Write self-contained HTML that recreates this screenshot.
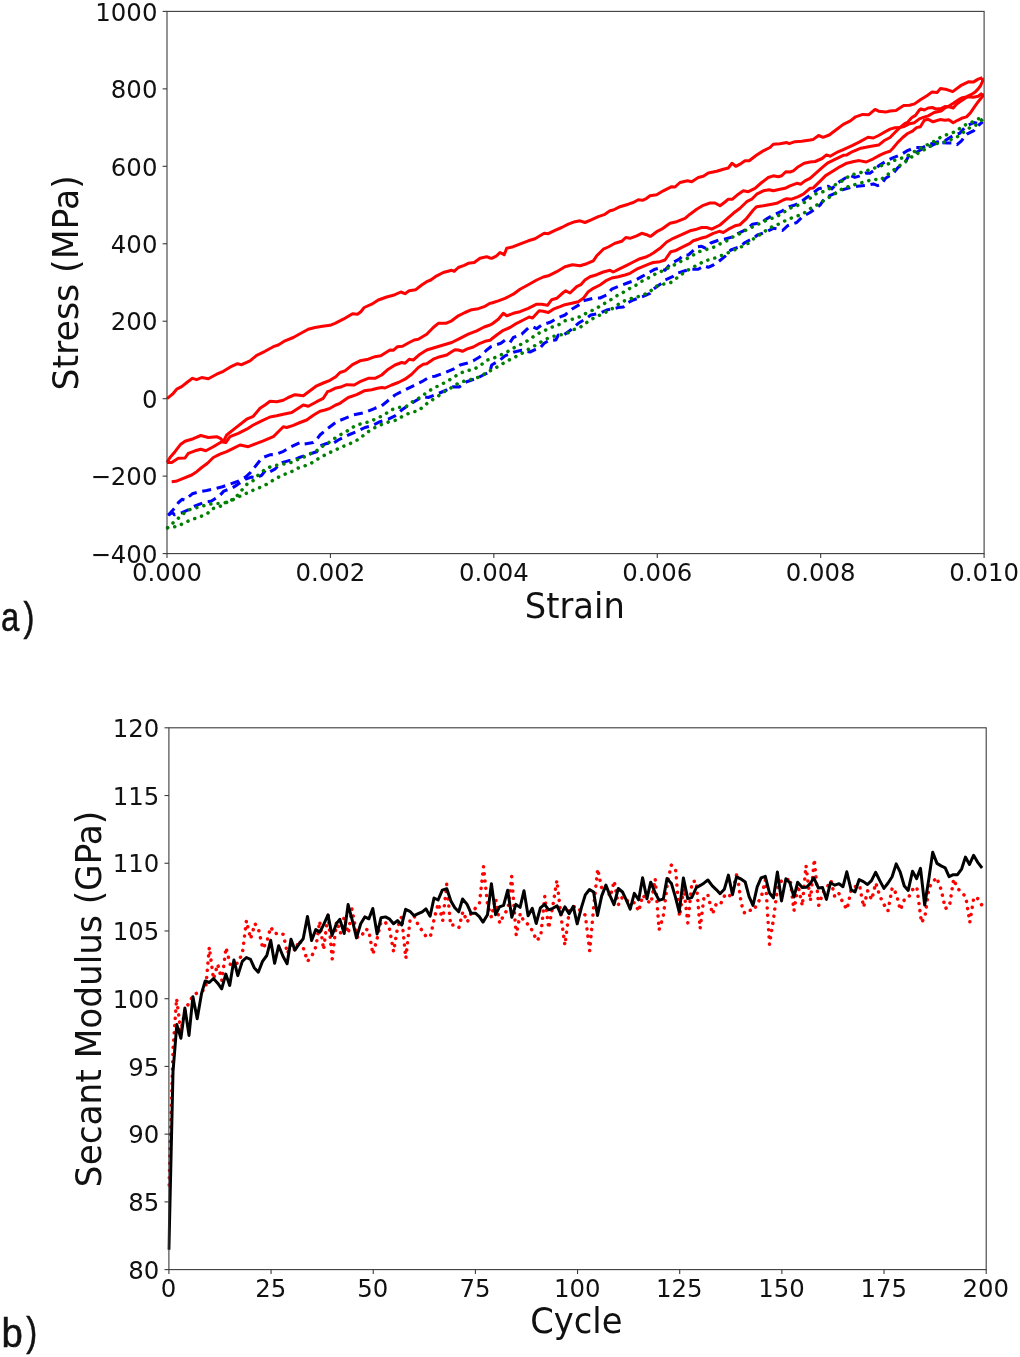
<!DOCTYPE html>
<html lang="en">
<head>
<meta charset="utf-8">
<title>Stress-strain and secant modulus</title>
<style>
html,body{margin:0;padding:0;background:#fff;}
body{width:1020px;height:1357px;overflow:hidden;}
svg{display:block;will-change:transform;}
.t{font-family:"DejaVu Sans","Liberation Sans",sans-serif;fill:#111;}
.tk{font-size:24.40px;}
.lb{font-size:34.30px;}
.pl{font-family:"Liberation Sans",sans-serif;fill:#111;font-size:41px;stroke:#111;stroke-width:0.55;}
.fr{fill:none;stroke:#3c3c3c;stroke-width:1.10;}
.r{fill:none;stroke:#ff0000;stroke-width:3.0;stroke-linejoin:round;stroke-linecap:butt;}
.b{fill:none;stroke:#0000ff;stroke-width:3.05;stroke-linejoin:round;stroke-dasharray:9.0 5.7;}
.g{fill:none;stroke:#008000;stroke-width:3.5;stroke-linejoin:round;stroke-linecap:round;stroke-dasharray:0.1 7.15;}
.k{fill:none;stroke:#000;stroke-width:3.0;stroke-linejoin:round;}
.rd{fill:none;stroke:#ff0000;stroke-width:3.5;stroke-linejoin:round;stroke-linecap:round;stroke-dasharray:0.1 7.15;}
</style>
</head>
<body>
<svg width="1020" height="1357" viewBox="0 0 1020 1357">
<rect width="1020" height="1357" fill="#fff"/>
<!-- panel a: stress vs strain -->
<g>
<clipPath id="ca"><rect x="165.5" y="11.4" width="820.1" height="542.2"/></clipPath>
<g clip-path="url(#ca)">
<path class="r" d="M167.0 398.7 L172.5 394.2 L176.7 389.2 L181.7 386.7 L187.5 382.0 L192.5 378.3 L196.7 379.7 L201.7 377.5 L208.3 378.7 L216.7 374.2 L223.3 371.3 L230.0 367.2 L237.5 363.7 L241.7 364.7 L250.0 360.8 L256.7 355.3 L265.0 351.3 L273.3 346.7 L278.3 345.0 L285.0 340.8 L293.3 337.5 L300.0 333.7 L308.3 329.2 L315.0 327.5 L322.5 326.3 L330.0 325.3 L335.0 323.3 L343.3 319.2 L352.5 313.7 L357.5 314.2 L360.8 311.7 L364.2 307.5 L371.7 304.2 L378.3 300.0 L386.7 297.0 L393.3 295.3 L400.8 292.0 L405.0 293.7 L409.2 290.8 L415.8 289.7 L421.7 285.0 L426.7 281.7 L430.8 280.0 L436.7 275.8 L443.3 272.5 L451.7 270.3 L454.2 271.3 L458.3 267.5 L464.2 265.3 L468.3 263.3 L474.2 262.5 L480.0 258.3 L486.7 256.7 L490.0 258.0 L491.7 258.3 L496.7 255.8 L500.0 252.5 L504.2 254.7 L506.7 248.3 L513.3 246.7 L521.7 243.3 L528.3 240.8 L535.0 238.7 L540.0 235.8 L544.2 233.3 L548.3 233.7 L555.0 230.3 L561.7 227.5 L568.3 224.2 L575.0 221.7 L580.0 220.8 L585.0 222.5 L591.7 219.7 L598.3 216.7 L604.2 214.7 L610.0 210.8 L613.3 210.0 L620.0 206.7 L628.3 204.2 L633.3 202.5 L638.3 199.7 L642.5 200.3 L646.7 198.3 L650.0 195.8 L656.7 194.7 L663.3 190.8 L671.7 186.7 L675.0 187.0 L680.0 182.5 L687.5 180.8 L691.7 181.7 L698.3 177.5 L703.3 176.3 L708.3 173.0 L716.7 171.3 L723.3 169.2 L728.3 168.0 L732.0 163.3 L735.8 166.3 L740.0 164.2 L745.0 160.8 L749.2 160.8 L756.7 155.0 L763.3 150.8 L770.0 147.5 L773.3 144.2 L780.0 143.7 L786.7 142.5 L789.2 143.7 L795.0 141.7 L801.7 141.3 L810.0 140.0 L813.3 139.4 L818.6 135.5 L823.0 137.3 L829.2 135.0 L836.2 129.7 L843.3 124.4 L850.4 120.9 L855.6 116.8 L862.7 114.4 L868.9 114.7 L875.1 109.4 L878.6 111.2 L885.6 112.1 L890.0 111.0 L895.9 110.5 L903.7 105.6 L909.6 105.3 L914.5 103.9 L920.4 99.7 L927.3 95.5 L932.2 91.9 L937.1 92.4 L940.5 88.6 L946.9 89.6 L952.7 91.6 L960.6 85.7 L968.4 81.8 L973.3 82.1 L978.2 79.1 L982.2 77.8"/>
<path class="r" d="M167.0 462.5 L171.7 462.5 L178.3 458.3 L185.0 458.0 L188.3 453.3 L195.0 450.8 L200.8 449.2 L205.8 450.8 L213.3 446.7 L221.7 441.7 L225.8 442.5 L230.0 436.7 L238.3 433.3 L246.7 429.2 L253.3 425.0 L261.7 420.8 L270.0 417.0 L276.7 415.8 L283.3 414.2 L291.7 412.5 L298.3 408.3 L303.3 405.0 L308.3 406.3 L316.7 401.7 L323.3 398.3 L327.5 391.7 L330.0 390.8 L335.0 388.3 L341.7 386.7 L346.7 384.7 L354.2 385.0 L360.0 381.7 L368.3 378.3 L375.0 378.3 L381.7 375.0 L388.3 369.2 L395.0 365.0 L401.7 362.5 L405.0 363.3 L409.2 359.2 L413.3 360.0 L420.0 354.2 L426.7 350.0 L435.0 347.5 L443.3 345.0 L451.7 342.5 L460.0 338.3 L468.3 334.2 L476.7 330.8 L484.2 327.0 L490.0 325.0 L491.7 324.2 L498.3 319.2 L503.3 313.3 L506.7 315.8 L513.3 313.3 L520.0 311.7 L528.3 308.3 L536.7 304.2 L541.7 304.2 L547.5 305.3 L551.7 299.7 L556.7 298.3 L563.3 292.5 L565.8 290.8 L570.0 293.0 L576.7 286.7 L580.8 284.7 L585.0 280.0 L590.0 276.7 L596.7 274.7 L603.3 272.0 L610.0 270.3 L613.3 272.0 L620.0 268.7 L626.7 265.3 L633.3 262.0 L640.0 258.7 L646.7 256.7 L650.0 255.0 L653.3 253.0 L660.0 248.3 L666.7 242.0 L673.3 238.3 L681.7 234.7 L690.0 230.8 L696.7 229.2 L701.7 227.5 L706.7 227.5 L711.7 229.2 L720.0 225.0 L726.7 219.2 L733.3 213.3 L740.0 208.3 L746.7 201.7 L751.7 199.2 L756.7 194.2 L763.3 190.8 L769.2 189.7 L773.3 190.8 L780.0 189.2 L785.0 188.3 L790.0 185.8 L796.7 183.3 L800.8 184.2 L805.0 180.8 L810.0 178.3 L815.1 173.8 L822.1 167.6 L827.4 163.2 L834.5 159.7 L843.3 155.3 L846.8 154.9 L852.1 151.8 L860.9 148.2 L869.8 146.5 L878.6 145.1 L883.9 140.8 L890.0 137.5 L894.9 132.5 L899.8 127.6 L904.7 123.7 L907.6 122.3 L911.6 117.8 L915.5 115.4 L919.4 110.0 L920.9 108.8 L924.3 110.0 L928.2 108.0 L932.2 107.5 L936.1 109.0 L941.0 108.5 L944.9 106.6 L949.8 107.1 L953.2 108.0 L956.7 104.1 L960.6 101.2 L964.5 98.7 L968.4 95.8 L972.4 93.8 L975.3 91.9 L978.2 88.9 L980.7 85.5 L982.6 81.1 L982.2 77.8"/>
<path class="r" d="M167.0 462.5 L170.0 457.5 L175.0 451.7 L180.8 444.2 L185.0 441.3 L193.3 438.7 L200.8 435.5 L208.3 437.5 L216.7 436.7 L220.8 438.7 L223.3 441.7 L226.7 435.0 L235.0 428.3 L246.7 419.2 L253.3 416.3 L260.0 408.3 L265.0 405.0 L270.0 401.2 L276.7 401.7 L283.3 400.3 L288.3 397.5 L295.0 394.7 L303.3 395.8 L310.0 390.8 L316.7 385.8 L323.3 383.0 L330.0 380.3 L335.8 376.7 L340.0 372.5 L345.0 370.8 L352.5 364.7 L360.0 360.8 L368.3 359.2 L375.0 356.7 L380.8 355.8 L390.0 350.0 L393.3 350.3 L397.5 346.7 L402.5 346.3 L408.3 343.0 L414.2 340.0 L418.3 339.2 L426.7 334.2 L433.3 327.5 L438.3 323.3 L445.8 323.3 L451.7 320.8 L458.3 315.8 L465.0 312.5 L471.7 309.7 L478.3 308.7 L485.0 306.3 L490.0 303.3 L491.7 303.0 L498.3 300.8 L505.0 298.3 L513.3 294.2 L520.0 289.2 L528.3 284.7 L536.7 280.0 L543.3 277.0 L548.3 275.8 L556.7 271.7 L565.0 266.7 L572.5 264.7 L580.0 265.8 L586.7 263.7 L593.3 260.8 L596.7 255.8 L603.3 249.2 L608.3 247.0 L615.0 243.3 L621.7 241.3 L625.8 237.5 L630.0 238.3 L636.7 235.8 L641.7 233.3 L646.7 234.7 L650.0 236.3 L650.8 236.3 L656.7 231.7 L661.7 229.2 L670.0 223.3 L676.7 221.7 L685.0 218.3 L690.0 214.2 L696.7 209.2 L703.3 205.3 L710.0 203.0 L715.0 203.0 L720.0 205.8 L725.0 202.0 L728.3 199.2 L732.5 199.2 L738.3 194.2 L743.3 190.8 L748.3 191.7 L755.0 188.3 L761.7 182.5 L768.3 177.5 L773.3 175.8 L778.3 176.7 L781.7 175.8 L785.8 171.7 L790.0 172.0 L793.3 170.8 L798.3 166.7 L804.2 163.3 L810.0 162.0 L815.1 161.5 L822.1 158.5 L826.5 154.9 L830.1 156.2 L838.0 151.8 L843.3 149.6 L852.1 145.6 L859.2 142.1 L868.0 137.3 L873.3 138.0 L878.6 135.5 L885.6 131.5 L890.0 129.1 L894.9 127.8 L899.8 127.6 L904.7 126.2 L909.6 123.7 L914.5 122.7 L919.4 118.8 L923.3 117.4 L928.2 115.9 L934.1 112.5 L941.0 111.0 L944.9 108.0 L949.8 105.6 L953.7 103.1 L958.6 99.7 L962.5 97.7 L967.5 96.8 L973.3 97.3 L978.2 96.3 L982.2 93.3"/>
<path class="r" d="M171.7 481.7 L175.8 481.3 L183.3 478.3 L191.7 475.0 L196.7 471.7 L201.7 467.5 L207.5 463.3 L213.3 457.5 L220.0 454.2 L226.7 451.7 L233.3 448.3 L240.0 445.0 L248.3 446.7 L256.7 443.3 L263.3 440.8 L273.3 436.7 L278.3 431.7 L283.3 426.7 L286.7 427.5 L293.3 425.3 L300.0 422.5 L306.7 420.0 L313.3 415.3 L320.0 411.3 L325.0 410.0 L330.0 408.3 L335.8 405.0 L340.0 403.3 L348.3 397.5 L356.7 394.7 L364.2 390.8 L371.7 389.7 L377.5 388.3 L381.7 387.5 L385.0 388.0 L391.7 385.0 L398.3 382.5 L405.0 379.2 L411.7 374.2 L418.3 367.5 L423.3 364.2 L426.7 363.7 L433.3 359.2 L440.0 356.7 L446.7 355.0 L451.7 351.7 L455.0 349.7 L458.3 350.0 L462.5 351.3 L466.7 349.2 L473.3 347.0 L480.0 343.3 L485.0 341.3 L490.0 340.3 L496.7 335.0 L503.3 330.3 L510.0 327.5 L516.7 323.3 L523.3 320.0 L529.2 317.0 L532.5 318.0 L539.2 310.8 L543.3 311.3 L548.3 312.5 L553.3 309.2 L560.0 306.7 L565.0 304.7 L571.7 303.3 L578.3 301.7 L583.3 298.3 L588.3 291.7 L593.3 288.3 L600.0 285.0 L606.7 280.3 L611.7 278.0 L618.3 276.7 L625.0 275.0 L630.0 273.3 L636.7 269.2 L643.3 266.3 L650.0 263.7 L653.3 262.5 L660.0 261.7 L665.0 260.0 L670.8 251.7 L675.0 250.8 L683.3 246.7 L690.0 243.3 L693.3 240.8 L698.3 239.2 L701.7 238.0 L706.7 236.7 L713.3 233.3 L719.2 231.3 L723.3 232.5 L730.0 228.3 L735.0 225.8 L740.0 224.7 L746.7 218.3 L753.3 210.0 L756.7 206.7 L763.3 205.8 L771.7 204.2 L776.7 203.3 L783.3 200.0 L786.7 198.7 L791.7 199.2 L798.3 196.7 L803.3 194.2 L810.0 188.3 L813.3 187.9 L818.6 182.6 L825.6 175.6 L832.7 171.2 L839.8 166.8 L846.8 163.2 L853.9 161.5 L859.2 160.6 L866.2 162.0 L873.3 158.8 L880.4 154.9 L885.6 152.6 L890.0 151.2 L892.9 148.2 L897.8 142.4 L902.7 137.5 L907.6 133.5 L912.5 131.1 L916.5 127.6 L920.4 126.7 L924.3 120.3 L928.2 119.3 L933.1 121.8 L940.0 119.6 L944.9 120.3 L948.8 119.8 L953.2 122.7 L957.6 120.3 L961.6 118.3 L966.5 116.9 L970.4 112.9 L974.3 107.1 L978.2 101.7 L982.6 96.3 L982.2 93.3"/>
<path class="b" d="M168.2 515.2 L174.4 508.4 L178.5 502.5 L182.0 499.3 L184.7 500.1 L192.3 493.8 L200.5 491.5 L206.7 490.5 L214.9 488.7 L222.5 486.7 L231.4 483.6 L238.2 481.2 L245.8 476.8 L250.6 472.3 L258.8 462.0 L262.3 457.8 L269.8 454.8 L276.0 454.4 L283.5 451.3 L289.7 447.5 L300.0 442.5 L303.3 444.2 L313.3 442.5 L317.5 438.3 L320.0 435.0 L326.7 429.2 L336.7 421.7 L345.0 418.3 L353.3 415.0 L365.0 412.5 L375.0 408.3 L381.7 405.8 L386.7 401.7 L395.0 395.0 L403.3 390.8 L413.3 385.8 L421.7 381.7 L430.0 376.7 L435.0 376.3 L443.3 373.3 L453.3 369.2 L460.0 365.0 L466.7 363.3 L473.3 360.8 L480.0 356.7 L486.7 350.0 L490.0 347.5 L490.8 346.7 L500.8 343.3 L505.0 340.3 L510.0 342.5 L513.3 337.5 L521.7 334.2 L528.3 328.0 L532.5 326.7 L536.7 328.7 L541.7 325.0 L550.8 322.0 L556.7 318.3 L565.0 315.0 L571.7 309.2 L580.0 304.2 L583.3 300.8 L593.3 298.3 L600.0 298.0 L606.7 295.0 L611.7 289.2 L620.0 285.8 L626.7 283.3 L635.8 280.0 L641.7 276.7 L650.0 272.0 L655.0 269.2 L660.0 268.0 L665.0 270.3 L670.0 264.2 L679.2 259.2 L683.3 255.0 L688.3 255.0 L691.7 252.0 L696.7 247.0 L701.7 246.3 L705.8 248.3 L710.8 243.0 L719.2 240.0 L724.2 239.2 L733.3 236.7 L738.3 233.3 L746.7 229.2 L752.5 224.2 L761.7 222.5 L767.5 218.3 L775.0 214.2 L780.8 211.7 L789.2 206.7 L795.0 205.0 L802.5 200.8 L806.7 197.5 L810.0 195.3 L813.3 192.7 L818.6 188.8 L828.3 186.2 L831.8 188.8 L838.0 182.6 L845.1 178.2 L850.4 175.6 L854.8 177.4 L859.2 176.1 L866.2 172.9 L869.8 173.3 L874.2 170.3 L878.6 165.9 L885.6 161.5 L892.7 157.9 L901.5 154.4 L906.8 150.9 L915.6 147.4 L922.7 147.4 L931.5 143.8 L936.8 142.1 L945.6 140.3 L952.7 135.9 L959.8 133.2 L965.9 126.2 L973.9 122.6 L977.4 123.2 L982.7 119.1"/>
<path class="b" d="M168.2 515.2 L172.4 512.5 L174.4 514.8 L177.2 514.1 L182.0 512.7 L188.8 509.7 L192.9 506.8 L205.3 502.0 L211.5 501.1 L219.7 495.6 L223.8 491.1 L232.1 488.0 L237.5 484.6 L245.8 479.1 L251.3 477.1 L256.1 477.7 L261.6 475.4 L265.7 469.9 L269.8 471.8 L275.3 468.8 L280.8 463.1 L289.0 460.6 L292.5 460.6 L300.0 457.2 L306.7 455.0 L316.7 451.7 L320.0 445.8 L327.5 443.3 L331.7 444.2 L338.3 440.0 L348.3 435.0 L358.3 430.8 L365.0 427.5 L371.7 425.8 L380.0 421.7 L388.3 419.2 L395.0 415.8 L401.7 410.0 L410.0 404.2 L418.3 399.2 L423.3 396.7 L428.3 397.5 L436.7 394.2 L446.7 390.0 L453.3 386.7 L459.2 387.0 L466.7 381.7 L476.7 378.3 L483.3 375.0 L490.0 371.7 L491.7 365.0 L500.0 360.0 L505.0 355.8 L514.2 352.0 L521.7 350.3 L530.0 352.0 L535.0 349.7 L540.0 348.0 L544.2 343.3 L549.2 340.3 L555.8 340.0 L558.3 335.0 L563.3 335.3 L571.7 329.2 L578.3 323.3 L586.7 318.3 L590.8 315.0 L600.0 313.3 L606.7 310.0 L613.3 308.7 L618.3 307.5 L623.3 307.0 L628.3 302.5 L633.3 300.0 L642.5 296.7 L650.0 293.3 L653.3 289.2 L661.7 283.3 L665.0 280.0 L672.5 276.7 L676.7 273.3 L685.0 270.8 L690.0 269.2 L698.3 269.2 L704.2 265.8 L708.3 267.3 L713.3 265.0 L717.5 262.5 L726.7 255.0 L730.8 250.0 L740.0 246.7 L745.0 242.5 L753.3 238.3 L757.5 235.0 L766.7 231.7 L773.3 228.3 L778.3 229.2 L782.5 230.5 L787.5 225.8 L796.7 222.5 L802.5 216.7 L810.0 212.5 L815.9 208.2 L820.4 204.7 L823.9 199.4 L829.2 195.9 L837.1 192.4 L842.4 189.7 L851.2 187.4 L857.4 186.2 L866.2 185.3 L873.3 183.9 L877.7 185.6 L881.2 184.4 L885.6 178.2 L892.7 173.8 L898.0 167.6 L905.1 162.4 L908.6 156.2 L917.4 151.8 L922.7 148.6 L931.5 145.6 L938.6 142.4 L947.4 142.9 L952.7 142.9 L957.1 144.7 L961.5 140.8 L966.8 134.1 L973.9 130.6 L977.4 126.2 L982.7 121.8"/>
<path class="g" d="M167.5 527.8 L174.4 521.7 L180.6 516.2 L186.8 510.7 L194.3 508.2 L201.2 506.6 L207.4 504.5 L214.9 503.4 L221.8 503.4 L227.9 502.0 L234.8 498.3 L241.0 491.1 L246.5 484.6 L253.3 480.5 L258.8 474.3 L265.0 469.5 L271.9 466.1 L279.4 464.7 L286.3 463.6 L293.1 462.0 L300.0 458.5 L301.7 458.3 L309.2 454.2 L315.8 451.7 L320.0 447.5 L326.7 444.2 L333.3 439.2 L340.0 435.0 L347.5 430.8 L355.0 425.8 L362.5 423.3 L370.0 421.7 L376.7 418.3 L384.2 415.0 L390.8 410.0 L398.3 407.5 L405.8 406.7 L412.5 401.7 L420.0 397.5 L426.7 392.5 L433.3 388.3 L440.0 385.0 L446.7 381.7 L453.3 377.5 L460.0 373.3 L466.7 370.8 L474.2 369.2 L480.8 365.0 L487.5 360.0 L495.0 357.5 L502.5 354.2 L509.2 350.8 L515.8 346.7 L523.3 343.3 L530.0 339.2 L536.7 334.2 L544.2 330.8 L550.8 327.5 L558.3 325.0 L565.0 320.8 L572.5 319.2 L580.0 316.7 L587.5 312.5 L595.0 309.2 L601.7 305.0 L609.2 300.8 L615.0 296.7 L621.7 293.3 L628.3 289.2 L635.0 285.8 L642.5 280.8 L649.2 277.5 L655.0 274.2 L662.5 270.8 L669.2 267.5 L675.8 264.2 L683.3 260.0 L690.0 257.5 L696.7 252.5 L704.2 250.0 L711.7 248.3 L719.2 244.2 L726.7 240.8 L733.3 236.7 L740.8 233.3 L747.5 229.2 L755.0 225.8 L761.7 222.5 L769.2 219.2 L776.7 216.7 L783.3 212.5 L790.0 208.3 L796.7 205.8 L803.3 203.3 L810.0 198.3 L816.8 193.2 L823.9 191.5 L830.9 187.9 L837.1 183.5 L844.2 180.0 L850.4 174.7 L857.4 173.8 L864.5 171.2 L871.5 169.4 L879.5 165.9 L886.5 165.0 L893.6 160.6 L899.8 158.8 L906.8 156.2 L913.9 151.8 L920.9 147.9 L928.0 144.4 L935.1 140.8 L941.2 136.8 L948.3 134.1 L956.2 131.5 L962.4 126.2 L968.6 123.5 L974.8 120.9 L980.1 117.9"/>
<path class="g" d="M167.5 527.8 L177.2 526.5 L184.4 522.8 L191.6 519.6 L199.1 517.1 L206.7 514.1 L212.8 508.6 L219.7 506.6 L227.3 502.0 L234.8 499.0 L241.0 495.6 L247.8 492.8 L254.7 489.4 L262.3 486.7 L269.1 482.8 L276.0 478.4 L282.8 475.0 L290.4 472.3 L297.9 468.1 L305.0 465.8 L312.5 462.5 L320.0 457.5 L326.7 454.2 L333.3 450.8 L340.8 447.5 L348.3 444.2 L355.0 441.7 L361.7 436.7 L368.3 431.7 L375.0 427.5 L382.5 424.2 L389.2 421.7 L396.7 420.0 L403.3 415.8 L410.8 412.5 L418.3 410.8 L425.0 405.0 L430.8 400.8 L437.5 396.7 L444.2 391.7 L451.7 387.5 L458.3 383.3 L465.0 380.8 L472.5 379.2 L480.0 376.7 L486.7 372.5 L495.0 368.3 L501.7 364.2 L509.2 360.0 L515.8 356.7 L523.3 352.5 L530.0 348.3 L537.5 344.2 L544.2 340.0 L551.7 336.7 L559.2 335.0 L565.8 334.2 L572.5 330.0 L580.0 327.5 L586.7 322.5 L593.3 318.3 L600.0 315.0 L606.7 311.7 L614.2 307.5 L620.8 302.5 L628.3 299.2 L635.8 297.5 L642.5 295.0 L649.2 292.5 L655.0 286.7 L663.3 284.2 L670.8 282.5 L677.5 277.5 L684.2 272.5 L690.8 268.3 L697.5 265.0 L705.0 260.8 L711.7 259.2 L718.3 256.7 L725.0 254.2 L732.5 250.8 L740.0 247.5 L748.3 243.3 L755.0 237.5 L762.5 233.3 L768.3 228.3 L775.0 225.8 L781.7 222.5 L788.3 219.2 L795.0 216.7 L802.5 214.2 L809.2 209.2 L815.9 205.6 L823.0 201.2 L830.1 196.8 L837.1 192.4 L843.3 187.9 L850.4 186.2 L858.3 183.5 L865.4 181.8 L873.3 179.1 L880.4 180.0 L887.4 174.7 L894.5 169.4 L900.6 165.0 L906.8 160.6 L913.9 155.3 L920.9 151.8 L928.0 147.4 L935.1 143.8 L942.1 142.9 L949.2 140.3 L956.2 137.6 L963.3 132.4 L969.5 127.9 L975.6 125.3 L981.8 120.0"/>
</g>
<rect class="fr" x="167.00" y="11.40" width="817.10" height="542.20"/>
<line class="fr" x1="167.00" y1="553.60" x2="167.00" y2="558.00"/><text class="t tk" transform="translate(167.00 581.30) scale(1.0000 1.0400)" text-anchor="middle">0.000</text>
<line class="fr" x1="330.42" y1="553.60" x2="330.42" y2="558.00"/><text class="t tk" transform="translate(330.42 581.30) scale(1.0000 1.0400)" text-anchor="middle">0.002</text>
<line class="fr" x1="493.84" y1="553.60" x2="493.84" y2="558.00"/><text class="t tk" transform="translate(493.84 581.30) scale(1.0000 1.0400)" text-anchor="middle">0.004</text>
<line class="fr" x1="657.26" y1="553.60" x2="657.26" y2="558.00"/><text class="t tk" transform="translate(657.26 581.30) scale(1.0000 1.0400)" text-anchor="middle">0.006</text>
<line class="fr" x1="820.68" y1="553.60" x2="820.68" y2="558.00"/><text class="t tk" transform="translate(820.68 581.30) scale(1.0000 1.0400)" text-anchor="middle">0.008</text>
<line class="fr" x1="984.10" y1="553.60" x2="984.10" y2="558.00"/><text class="t tk" transform="translate(984.10 581.30) scale(1.0000 1.0400)" text-anchor="middle">0.010</text>
<line class="fr" x1="162.60" y1="11.40" x2="167.00" y2="11.40"/><text class="t tk" transform="translate(157.40 20.60) scale(1.0000 1.0400)" text-anchor="end">1000</text>
<line class="fr" x1="162.60" y1="88.86" x2="167.00" y2="88.86"/><text class="t tk" transform="translate(157.40 98.06) scale(1.0000 1.0400)" text-anchor="end">800</text>
<line class="fr" x1="162.60" y1="166.31" x2="167.00" y2="166.31"/><text class="t tk" transform="translate(157.40 175.51) scale(1.0000 1.0400)" text-anchor="end">600</text>
<line class="fr" x1="162.60" y1="243.77" x2="167.00" y2="243.77"/><text class="t tk" transform="translate(157.40 252.97) scale(1.0000 1.0400)" text-anchor="end">400</text>
<line class="fr" x1="162.60" y1="321.23" x2="167.00" y2="321.23"/><text class="t tk" transform="translate(157.40 330.43) scale(1.0000 1.0400)" text-anchor="end">200</text>
<line class="fr" x1="162.60" y1="398.69" x2="167.00" y2="398.69"/><text class="t tk" transform="translate(157.40 407.89) scale(1.0000 1.0400)" text-anchor="end">0</text>
<line class="fr" x1="162.60" y1="476.14" x2="167.00" y2="476.14"/><text class="t tk" transform="translate(157.40 485.34) scale(1.0000 1.0400)" text-anchor="end">−200</text>
<line class="fr" x1="162.60" y1="553.60" x2="167.00" y2="553.60"/><text class="t tk" transform="translate(157.40 562.80) scale(1.0000 1.0400)" text-anchor="end">−400</text>
<text class="t lb" transform="translate(77.50 282.90) rotate(-90) scale(1.0115 1.0300)" text-anchor="middle">Stress (MPa)</text>
<text class="t lb" transform="translate(574.80 618.30) scale(0.9840 1.0300)" text-anchor="middle">Strain</text>
<text class="pl" transform="translate(0.90 631.40) scale(0.8000 1.0000)" text-anchor="start">a<tspan dx="5.4">)</tspan></text>
</g>
<!-- panel b: secant modulus vs cycle -->
<g>
<clipPath id="cb"><rect x="167.4" y="727.8" width="820.3" height="541.8"/></clipPath>
<g clip-path="url(#cb)">
<path class="rd" d="M168.9 1185.0 L173.0 1050.0 L176.6 998.6 L180.7 1031.0 L185.3 1009.9 L189.3 1002.1 L193.4 995.2 L197.5 992.7 L201.6 991.3 L205.7 988.6 L209.3 947.2 L213.5 979.0 L217.7 964.3 L221.9 980.5 L226.0 947.6 L230.2 964.3 L234.3 965.1 L238.3 962.4 L242.5 952.5 L246.4 920.7 L250.6 938.8 L255.0 923.6 L258.8 930.5 L262.8 948.6 L267.0 941.3 L270.7 927.1 L275.0 933.9 L279.2 932.5 L283.3 934.4 L287.4 953.5 L291.5 944.2 L294.9 950.6 L299.3 940.3 L303.2 947.6 L307.6 961.4 L312.5 954.5 L316.0 946.3 L319.7 921.3 L323.6 949.7 L328.0 913.4 L332.2 959.0 L336.6 921.3 L340.5 933.0 L344.2 916.9 L348.3 933.5 L351.9 909.0 L357.2 937.0 L361.1 937.3 L365.0 929.1 L368.7 930.1 L372.9 954.3 L377.3 937.9 L381.0 921.8 L385.4 922.3 L389.5 929.1 L393.6 951.7 L397.7 926.7 L401.6 916.9 L405.8 958.3 L410.2 918.6 L414.4 916.7 L418.2 925.0 L422.3 930.9 L426.6 937.3 L430.5 936.1 L434.7 916.7 L438.3 903.4 L442.7 920.6 L446.7 884.3 L450.7 925.5 L454.6 924.7 L458.9 927.6 L462.9 911.6 L467.3 922.1 L471.3 912.7 L474.9 908.8 L479.4 903.4 L483.5 866.7 L487.6 904.9 L491.4 917.2 L495.6 898.5 L499.7 923.3 L503.9 914.7 L508.0 908.8 L511.7 876.5 L516.2 935.3 L520.3 913.5 L524.2 922.1 L528.6 924.5 L532.7 931.4 L536.7 940.7 L540.7 936.3 L544.8 896.3 L548.7 928.4 L553.1 904.2 L556.9 880.4 L561.2 917.6 L564.9 945.1 L569.5 908.6 L573.5 906.9 L577.6 906.7 L581.6 913.0 L585.3 915.0 L589.7 950.8 L593.8 905.5 L597.7 868.9 L602.0 890.0 L606.2 888.0 L610.3 896.9 L614.2 881.0 L618.3 904.7 L622.5 896.9 L626.7 900.3 L630.7 902.7 L634.8 902.7 L638.7 911.4 L642.8 895.1 L647.1 900.6 L651.0 903.5 L655.2 878.7 L659.1 929.7 L663.2 916.5 L667.5 882.5 L671.3 865.1 L675.6 869.2 L679.5 916.5 L683.8 888.6 L687.8 922.9 L692.0 882.0 L696.2 880.8 L700.1 928.5 L704.2 895.5 L708.1 895.5 L712.5 914.1 L716.7 902.7 L720.9 903.3 L724.6 895.7 L728.7 897.6 L732.8 889.8 L737.1 872.6 L741.2 903.5 L744.6 913.3 L749.1 910.2 L753.5 910.6 L757.5 903.5 L761.4 896.5 L765.5 879.6 L769.5 944.5 L773.6 918.0 L777.7 886.7 L781.7 880.6 L785.9 880.8 L790.0 878.0 L794.0 910.7 L798.1 885.5 L802.3 905.8 L806.0 865.6 L810.4 900.9 L814.3 859.2 L818.7 905.5 L822.8 893.0 L826.8 887.6 L831.0 880.6 L834.9 897.5 L839.0 893.7 L843.1 903.3 L847.0 909.4 L851.5 888.4 L855.6 886.5 L859.5 885.0 L863.6 907.1 L867.7 890.9 L871.7 899.7 L875.8 883.0 L879.9 896.3 L884.0 904.6 L887.9 911.0 L892.3 887.5 L896.3 893.8 L900.3 910.0 L904.5 899.2 L908.7 897.3 L912.6 889.6 L916.8 886.8 L921.5 922.7 L924.9 916.7 L929.0 887.5 L933.2 881.6 L936.7 877.5 L941.2 889.9 L945.3 908.5 L949.4 906.6 L953.6 879.1 L957.5 888.4 L961.7 892.2 L965.8 897.1 L969.8 922.3 L973.9 897.1 L977.9 898.7 L982.1 905.6"/>
<path class="k" d="M168.9 1249.8 L173.0 1072.0 L176.8 1024.6 L180.9 1038.3 L184.9 1007.9 L189.0 1035.4 L192.9 996.7 L197.2 1018.7 L201.5 993.7 L205.2 981.0 L209.3 982.5 L213.5 978.5 L217.9 983.4 L221.7 988.8 L225.8 974.1 L229.7 985.4 L233.9 959.9 L237.8 975.6 L242.3 961.4 L246.4 957.5 L250.5 959.4 L254.2 967.7 L258.3 972.2 L262.5 961.4 L266.8 955.5 L270.7 940.3 L274.6 963.3 L278.7 945.7 L283.1 956.5 L287.1 963.8 L291.0 939.3 L294.9 950.1 L299.3 943.7 L303.2 938.8 L307.5 916.4 L311.6 940.4 L315.8 929.6 L319.9 932.1 L324.1 923.7 L328.0 914.9 L332.0 935.5 L336.4 923.7 L339.8 919.3 L344.2 933.5 L348.1 904.6 L352.7 921.8 L356.5 937.9 L360.7 923.7 L364.8 916.9 L368.9 918.8 L372.8 908.5 L377.1 934.0 L381.0 917.8 L385.4 916.9 L389.3 918.8 L393.5 923.7 L397.5 920.6 L401.7 925.0 L405.6 909.3 L409.9 911.3 L414.1 915.7 L418.2 913.7 L422.3 911.8 L425.9 908.8 L430.1 916.2 L434.0 898.0 L438.1 900.0 L442.3 890.2 L446.8 888.7 L450.9 901.0 L454.8 907.8 L458.7 911.8 L462.6 899.0 L467.1 904.4 L471.0 913.2 L475.4 913.2 L479.3 916.7 L483.0 922.1 L487.5 914.7 L491.4 883.8 L495.6 914.7 L499.5 906.9 L503.6 905.4 L507.7 890.2 L511.8 917.2 L515.9 904.4 L520.1 907.4 L524.0 890.7 L528.1 915.7 L532.3 908.3 L536.2 923.5 L540.4 907.8 L544.6 904.4 L548.7 909.8 L552.8 908.3 L557.1 905.9 L561.0 914.7 L564.9 906.9 L569.1 913.7 L573.2 906.4 L577.2 923.8 L581.4 907.6 L585.3 894.9 L589.5 889.5 L593.6 892.0 L597.5 915.5 L601.7 895.9 L605.9 885.1 L610.1 895.9 L614.0 904.7 L618.3 888.5 L622.5 892.0 L626.7 900.8 L630.2 909.1 L634.3 893.4 L638.7 899.8 L642.6 877.7 L646.9 898.8 L650.7 882.2 L655.2 892.9 L659.1 900.3 L663.4 898.8 L667.0 878.5 L671.4 883.4 L675.3 896.7 L679.2 911.9 L683.4 878.0 L687.7 898.6 L691.7 897.6 L696.2 887.8 L700.3 885.4 L704.2 882.9 L707.9 880.0 L712.3 885.9 L716.5 889.8 L720.1 893.7 L724.3 889.3 L728.4 875.1 L732.5 894.7 L736.4 877.1 L741.0 879.0 L745.2 882.0 L749.1 896.7 L753.0 905.5 L757.2 886.9 L761.1 877.8 L765.3 876.4 L769.5 893.0 L773.4 897.9 L777.4 872.0 L781.5 900.9 L785.9 878.8 L789.8 882.7 L794.0 897.0 L797.6 882.3 L802.3 887.6 L806.5 887.2 L810.4 883.2 L813.8 877.8 L818.5 888.1 L822.6 887.6 L826.4 899.4 L830.5 882.7 L834.9 885.2 L839.1 883.7 L843.0 886.7 L846.8 871.8 L851.1 889.9 L855.0 891.9 L859.2 879.6 L863.4 881.6 L867.5 884.5 L871.5 880.6 L875.6 872.3 L879.8 880.6 L883.9 888.4 L888.1 883.0 L892.1 876.7 L896.2 863.9 L900.1 871.8 L904.3 886.0 L908.2 890.4 L912.5 871.3 L916.6 878.6 L920.5 868.3 L924.7 905.1 L928.9 878.6 L932.7 852.2 L937.0 863.4 L941.1 865.9 L945.2 867.8 L949.1 876.7 L953.3 874.7 L957.5 874.7 L961.7 868.8 L965.4 857.1 L969.5 864.4 L973.6 855.3 L978.1 862.9 L982.1 868.0"/>
</g>
<rect class="fr" x="168.90" y="727.80" width="817.30" height="541.80"/>
<line class="fr" x1="168.90" y1="1269.60" x2="168.90" y2="1274.00"/><text class="t tk" transform="translate(168.50 1297.30) scale(1.0000 1.0400)" text-anchor="middle">0</text>
<line class="fr" x1="271.06" y1="1269.60" x2="271.06" y2="1274.00"/><text class="t tk" transform="translate(270.66 1297.30) scale(1.0000 1.0400)" text-anchor="middle">25</text>
<line class="fr" x1="373.23" y1="1269.60" x2="373.23" y2="1274.00"/><text class="t tk" transform="translate(372.83 1297.30) scale(1.0000 1.0400)" text-anchor="middle">50</text>
<line class="fr" x1="475.39" y1="1269.60" x2="475.39" y2="1274.00"/><text class="t tk" transform="translate(474.99 1297.30) scale(1.0000 1.0400)" text-anchor="middle">75</text>
<line class="fr" x1="577.55" y1="1269.60" x2="577.55" y2="1274.00"/><text class="t tk" transform="translate(577.15 1297.30) scale(1.0000 1.0400)" text-anchor="middle">100</text>
<line class="fr" x1="679.71" y1="1269.60" x2="679.71" y2="1274.00"/><text class="t tk" transform="translate(679.31 1297.30) scale(1.0000 1.0400)" text-anchor="middle">125</text>
<line class="fr" x1="781.88" y1="1269.60" x2="781.88" y2="1274.00"/><text class="t tk" transform="translate(781.48 1297.30) scale(1.0000 1.0400)" text-anchor="middle">150</text>
<line class="fr" x1="884.04" y1="1269.60" x2="884.04" y2="1274.00"/><text class="t tk" transform="translate(883.64 1297.30) scale(1.0000 1.0400)" text-anchor="middle">175</text>
<line class="fr" x1="986.20" y1="1269.60" x2="986.20" y2="1274.00"/><text class="t tk" transform="translate(985.80 1297.30) scale(1.0000 1.0400)" text-anchor="middle">200</text>
<line class="fr" x1="164.50" y1="727.80" x2="168.90" y2="727.80"/><text class="t tk" transform="translate(159.30 737.00) scale(1.0000 1.0400)" text-anchor="end">120</text>
<line class="fr" x1="164.50" y1="795.52" x2="168.90" y2="795.52"/><text class="t tk" transform="translate(159.30 804.73) scale(1.0000 1.0400)" text-anchor="end">115</text>
<line class="fr" x1="164.50" y1="863.25" x2="168.90" y2="863.25"/><text class="t tk" transform="translate(159.30 872.45) scale(1.0000 1.0400)" text-anchor="end">110</text>
<line class="fr" x1="164.50" y1="930.97" x2="168.90" y2="930.97"/><text class="t tk" transform="translate(159.30 940.17) scale(1.0000 1.0400)" text-anchor="end">105</text>
<line class="fr" x1="164.50" y1="998.70" x2="168.90" y2="998.70"/><text class="t tk" transform="translate(159.30 1007.90) scale(1.0000 1.0400)" text-anchor="end">100</text>
<line class="fr" x1="164.50" y1="1066.42" x2="168.90" y2="1066.42"/><text class="t tk" transform="translate(159.30 1075.62) scale(1.0000 1.0400)" text-anchor="end">95</text>
<line class="fr" x1="164.50" y1="1134.15" x2="168.90" y2="1134.15"/><text class="t tk" transform="translate(159.30 1143.35) scale(1.0000 1.0400)" text-anchor="end">90</text>
<line class="fr" x1="164.50" y1="1201.88" x2="168.90" y2="1201.88"/><text class="t tk" transform="translate(159.30 1211.08) scale(1.0000 1.0400)" text-anchor="end">85</text>
<line class="fr" x1="164.50" y1="1269.60" x2="168.90" y2="1269.60"/><text class="t tk" transform="translate(159.30 1278.80) scale(1.0000 1.0400)" text-anchor="end">80</text>
<text class="t lb" transform="translate(101.00 999.00) rotate(-90) scale(1.0000 1.0200)" text-anchor="middle">Secant Modulus (GPa)</text>
<text class="t lb" transform="translate(576.30 1332.60) scale(0.9850 1.0100)" text-anchor="middle">Cycle</text>
<text class="pl" transform="translate(1.40 1347.00) scale(0.9350 1.0000)" text-anchor="start">b</text>
<text class="pl" transform="translate(26.30 1346.20) scale(0.8000 1.0000)" text-anchor="start">)</text>
</g>
</svg>
</body>
</html>
